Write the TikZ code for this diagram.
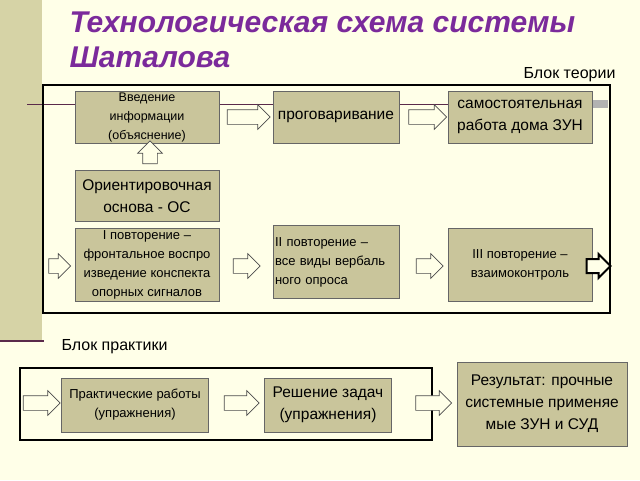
\documentclass[tikz,border=0pt]{standalone}
\usepackage{fontspec}
\setmainfont{Liberation Sans}
\usetikzlibrary{shapes.arrows}
\definecolor{bg}{HTML}{FFFFE8}
\definecolor{stripe}{HTML}{D6D3A6}
\definecolor{boxf}{HTML}{C9C59B}
\definecolor{ttl}{HTML}{7B2A9B}
\definecolor{pline}{HTML}{5A2A4A}
\tikzset{
 blk/.style={draw=gray!80!black, fill=boxf, line width=0.8pt, align=center, inner sep=0pt},
 fa/.style={font=\fontsize{12.5}{19}\selectfont},
 fb/.style={font=\fontsize{13}{19}\selectfont},
 fc/.style={font=\fontsize{15.5}{22}\selectfont},
 harr/.style={single arrow, draw=gray!60!black, fill=bg, line width=0.7pt, single arrow head extend=5pt, single arrow tip angle=90, inner sep=0pt},
 frame/.style={draw=black, line width=1.6pt}
}
\begin{document}
\begin{tikzpicture}[x=1pt,y=-1pt]
\fill[bg] (0,0) rectangle (640,480);
\useasboundingbox (0,0) rectangle (640,480);
\fill[stripe] (0,0) rectangle (42,340);
\draw[pline, line width=1.5pt] (0,341) -- (44,341);
\node[anchor=west, text=ttl, font=\fontsize{30}{35}\selectfont\bfseries\itshape, align=left] (title) at (66,40) {Технологическая схема системы\\Шаталова};
\draw[pline, line width=0.8pt] (27,104) -- (608,104);
\fill[gray!60] (592,100) rectangle (608,108);
\draw[frame] (43,85) rectangle (610,313);
\node[anchor=east, font=\fontsize{16}{18}\selectfont] (bt) at (619,75) {Блок теории};
\node[blk, fa, minimum width=144pt, minimum height=52pt] (vv) at (147,117) {Введение\\информации\\(объяснение)};
\node[blk, fc, minimum width=126pt, minimum height=52pt] (pr) at (336,117) {проговаривание};
\node[blk, fc, minimum width=144pt, minimum height=52pt] (sr) at (520,117) {самостоятельная\\работа дома ЗУН};
\node[blk, fc, minimum width=144pt, minimum height=51pt] (os) at (147,196) {Ориентировочная\\основа - ОС};
\node[blk, fb, minimum width=144pt, minimum height=73pt] (p1) at (147,265) {I повторение –\\фронтальное воспро\\изведение конспекта\\опорных сигналов};
\node[blk, fb, minimum width=126pt, minimum height=73pt, align=left, text width=122pt] (p2) at (336,262) {II повторение –\\все виды вербаль\\ного опроса};
\node[blk, fb, minimum width=144pt, minimum height=73pt] (p3) at (520,265) {III повторение –\\взаимоконтроль};
\node[harr, minimum height=43pt] (a1) at (245,117) {\rule{0pt}{14pt}};
\node[harr, minimum height=38pt] (a2) at (424,117) {\rule{0pt}{14pt}};
\node[harr, minimum height=23pt, shape border rotate=90] (a3) at (150,156) {\rule{14pt}{0pt}};
\node[harr, minimum height=22pt] (a4) at (56,266) {\rule{0pt}{14pt}};
\node[harr, minimum height=27pt] (a5) at (243,266) {\rule{0pt}{14pt}};
\node[harr, minimum height=27pt] (a6) at (426,266) {\rule{0pt}{14pt}};
\node[harr, draw=black, line width=2pt, minimum height=24pt] (a7) at (595,266) {\rule{0pt}{12pt}};
\node[anchor=west, font=\fontsize{16}{18}\selectfont] (bp) at (58,347) {Блок практики};
\draw[frame] (20,368) rectangle (432,440);
\node[blk, fb, minimum width=147pt, minimum height=54pt] (pw) at (135,405) {Практические работы\\(упражнения)};
\node[blk, fc, minimum width=127pt, minimum height=54pt] (rz) at (328,405) {Решение задач\\(упражнения)};
\node[blk, fc, minimum width=170pt, minimum height=84pt] (res) at (542,404) {Результат: прочные\\системные применяе\\мые ЗУН и СУД};
\node[harr, minimum height=37pt] (b1) at (38,403) {\rule{0pt}{14pt}};
\node[harr, minimum height=35pt] (b2) at (238,403) {\rule{0pt}{14pt}};
\node[harr, minimum height=36pt] (b3) at (430,403) {\rule{0pt}{14pt}};
\end{tikzpicture}
\end{document}
